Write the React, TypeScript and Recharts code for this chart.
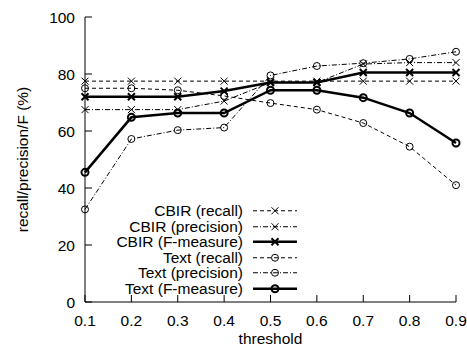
import { Legend, Line, LineChart, XAxis, YAxis } from "recharts";

const thresholds = [0.1, 0.2, 0.3, 0.4, 0.5, 0.6, 0.7, 0.8, 0.9];
const cbirRecall = [77.5, 77.5, 77.5, 77.5, 77.5, 77.5, 77.5, 77.5, 77.5];
const cbirPrecision = [67.5, 67.5, 67.5, 70.5, 77, 77, 83.5, 84, 84];
const cbirF = [72, 72, 72, 74, 77, 77, 80.5, 80.5, 80.5];
const textRecall = [75, 75, 74.3, 72.3, 69.8, 67.5, 62.8, 54.5, 41];
const textPrecision = [32.5, 57.2, 60.3, 61.2, 79.5, 82.8, 83.8, 85.3, 87.8];
const textF = [45.5, 64.8, 66.3, 66.3, 74.3, 74.3, 71.7, 66.3, 55.8];
const yTicks = [0, 20, 40, 60, 80, 100];

const DASH = "4 3";
const DASHDOT = "5 2 1 2";
const FS = 15.5;

const series = [
  { key: "cr", name: "CBIR (recall)", values: cbirRecall, dash: DASH, mark: "x", w: 1 },
  { key: "cp", name: "CBIR (precision)", values: cbirPrecision, dash: DASHDOT, mark: "x", w: 1 },
  { key: "cf", name: "CBIR (F-measure)", values: cbirF, dash: undefined, mark: "x", w: 2.5 },
  { key: "tr", name: "Text (recall)", values: textRecall, dash: DASH, mark: "o", w: 1 },
  { key: "tp", name: "Text (precision)", values: textPrecision, dash: DASHDOT, mark: "o", w: 1 },
  { key: "tf", name: "Text (F-measure)", values: textF, dash: undefined, mark: "o", w: 2.5 },
];

const data = thresholds.map((t, i) => {
  const row: Record<string, number> = { t };
  series.forEach((s) => (row[s.key] = s.values[i]));
  return row;
});

function Marker({ cx, cy, mark, w }: { cx: number; cy: number; mark: string; w: number }) {
  const sw = w > 1 ? 2 : 1;
  if (mark === "x") {
    const r = 3.5;
    return (
      <g stroke="#000" strokeWidth={sw}>
        <line x1={cx - r} y1={cy - r} x2={cx + r} y2={cy + r} />
        <line x1={cx - r} y1={cy + r} x2={cx + r} y2={cy - r} />
      </g>
    );
  }
  return <circle cx={cx} cy={cy} r={3.5} fill="none" stroke="#000" strokeWidth={sw} />;
}

const dotFor = (mark: string, w: number) => (p: any) =>
  (
    <g key={`d-${p.index}`}>
      <Marker cx={p.cx} cy={p.cy} mark={mark} w={w} />
    </g>
  );

// legend rows follow the series order, like gnuplot's key
const renderLegend = () => (
  <div style={{ fontSize: FS, fontFamily: "Liberation Sans, Arial, sans-serif" }}>
    {series.map((s) => (
      <div key={s.key} style={{ display: "flex", alignItems: "center", height: 15.5 }}>
        <span style={{ width: 143, textAlign: "right", lineHeight: "15.5px", whiteSpace: "nowrap" }}>{s.name}</span>
        <svg width={57} height={15.5}>
          <line x1={10} x2={54} y1={7.75} y2={7.75} stroke="#000" strokeWidth={s.w} strokeDasharray={s.dash} />
          <Marker cx={32} cy={7.75} mark={s.mark} w={s.w} />
        </svg>
      </div>
    ))}
  </div>
);

const tickStyle = { fill: "#000", fontSize: FS };

export default function App() {
  return (
    <div style={{ position: "absolute", left: 0, top: 0, fontFamily: "Liberation Sans, Arial, sans-serif" }}>
      <LineChart width={467} height={347} data={data} margin={{ top: 17, right: 11, bottom: 0, left: 0 }}>
        <XAxis
          dataKey="t"
          type="number"
          domain={[0.1, 0.9]}
          ticks={thresholds}
          tickFormatter={(v) => v.toFixed(1)}
          height={45}
          tickSize={-7}
          tickMargin={20}
          stroke="#000"
          tick={tickStyle}
          interval={0}
          label={{ value: "threshold", position: "center", dy: 13.5, fill: "#000", fontSize: FS }}
        />
        <XAxis
          xAxisId="top"
          dataKey="t"
          type="number"
          orientation="top"
          domain={[0.1, 0.9]}
          ticks={thresholds}
          height={0}
          tickSize={-7}
          tick={false}
          stroke="#000"
          interval={0}
        />
        <YAxis
          domain={[0, 100]}
          ticks={yTicks}
          width={85}
          tickSize={-7}
          tickMargin={17}
          stroke="#000"
          tick={tickStyle}
          interval={0}
          label={{ value: "recall/precision/F (%)", angle: -90, position: "center", dx: -20, fill: "#000", fontSize: FS }}
        />
        <YAxis
          yAxisId="right"
          orientation="right"
          domain={[0, 100]}
          ticks={yTicks}
          width={0}
          tickSize={-7}
          tick={false}
          stroke="#000"
          interval={0}
        />
        {series.map((s) => (
          <Line
            key={s.key}
            dataKey={s.key}
            name={s.name}
            type="linear"
            stroke="#000"
            strokeWidth={s.w}
            strokeDasharray={s.dash}
            dot={dotFor(s.mark, s.w)}
            activeDot={false}
            isAnimationActive={false}
          />
        ))}
        <Legend
          layout="vertical"
          align="center"
          verticalAlign="middle"
          content={renderLegend}
          wrapperStyle={{ left: 100, top: 203, width: 200 }}
        />
      </LineChart>
    </div>
  );
}
